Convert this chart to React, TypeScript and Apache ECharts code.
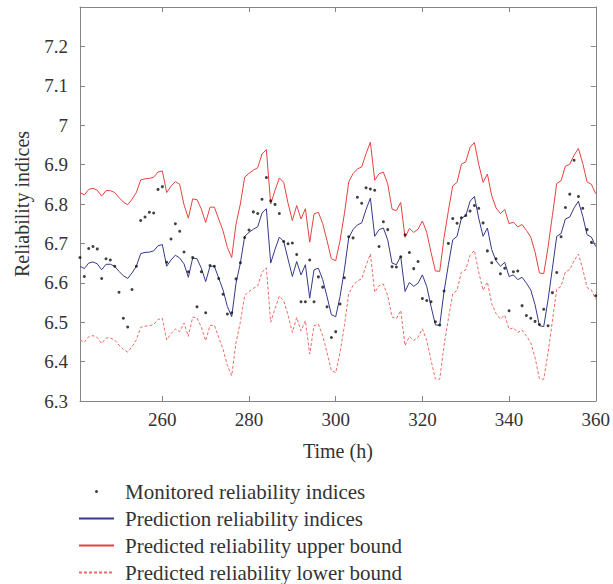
import React, { useEffect, useRef } from "react";
import * as echarts from "echarts";

// Hours 241 .. 360 (one value per hour)
const START_HOUR = 241;
const X_TICKS = [260, 280, 300, 320, 340, 360];

const monitored = [
  6.664, 6.616, 6.687, 6.692, 6.686, 6.611, 6.661, 6.658, 6.642, 6.576,
  6.510, 6.488, 6.583, 6.642, 6.758, 6.767, 6.779, 6.777, 6.837, 6.844,
  6.652, 6.711, 6.750, 6.731, 6.678, 6.628, 6.664, 6.539, 6.628, 6.524,
  6.644, 6.642, 6.611, 6.571, 6.521, 6.524, 6.610, 6.651, 6.715, 6.734,
  6.780, 6.776, 6.812, 6.867, 6.808, 6.799, 6.776, 6.705, 6.699, 6.701,
  6.672, 6.552, 6.552, 6.658, 6.552, 6.615, 6.589, 6.539, 6.461, 6.476,
  6.546, 6.613, 6.717, 6.714, 6.817, 6.802, 6.841, 6.838, 6.835, 6.692,
  6.755, 6.735, 6.641, 6.640, 6.666, 6.722, 6.677, 6.636, 6.654, 6.560,
  6.555, 6.552, 6.501, 6.493, 6.579, 6.700, 6.763, 6.751, 6.765, 6.771,
  6.782, 6.796, 6.789, 6.752, 6.681, 6.651, 6.661, 6.623, 6.637, 6.529,
  6.628, 6.630, 6.542, 6.517, 6.510, 6.502, 6.494, 6.533, 6.491, 6.575,
  6.626, 6.717, 6.791, 6.825, 6.911, 6.819, 6.789, 6.735, 6.703, 6.567,
];

const predicted = [
  6.642, 6.636, 6.650, 6.653, 6.648, 6.633, 6.647, 6.647, 6.642, 6.629,
  6.618, 6.611, 6.625, 6.642, 6.674, 6.677, 6.678, 6.681, 6.694, 6.697,
  6.642, 6.658, 6.670, 6.663, 6.648, 6.614, 6.663, 6.661, 6.637, 6.603,
  6.642, 6.642, 6.612, 6.582, 6.540, 6.514, 6.599, 6.650, 6.718, 6.728,
  6.736, 6.742, 6.777, 6.788, 6.650, 6.685, 6.716, 6.705, 6.660, 6.616,
  6.654, 6.620, 6.646, 6.561, 6.633, 6.637, 6.608, 6.565, 6.519, 6.514,
  6.565, 6.633, 6.714, 6.735, 6.747, 6.752, 6.786, 6.815, 6.718, 6.735,
  6.739, 6.709, 6.650, 6.646, 6.667, 6.578, 6.601, 6.591, 6.599, 6.620,
  6.591, 6.540, 6.493, 6.492, 6.578, 6.646, 6.709, 6.718, 6.764, 6.770,
  6.807, 6.819, 6.764, 6.718, 6.739, 6.684, 6.656, 6.642, 6.652, 6.616,
  6.620, 6.608, 6.614, 6.599, 6.582, 6.544, 6.491, 6.489, 6.557, 6.637,
  6.718, 6.725, 6.762, 6.767, 6.790, 6.807, 6.769, 6.722, 6.716, 6.692,
];

const upperBound = [
  6.829, 6.823, 6.837, 6.840, 6.835, 6.820, 6.834, 6.834, 6.829, 6.816,
  6.805, 6.798, 6.812, 6.829, 6.861, 6.864, 6.865, 6.868, 6.881, 6.884,
  6.829, 6.845, 6.857, 6.850, 6.798, 6.764, 6.813, 6.811, 6.787, 6.753,
  6.792, 6.792, 6.762, 6.732, 6.690, 6.664, 6.749, 6.800, 6.868, 6.878,
  6.886, 6.892, 6.927, 6.938, 6.800, 6.835, 6.866, 6.855, 6.802, 6.758,
  6.796, 6.762, 6.788, 6.703, 6.775, 6.779, 6.750, 6.707, 6.661, 6.656,
  6.707, 6.775, 6.856, 6.877, 6.889, 6.894, 6.928, 6.957, 6.860, 6.877,
  6.881, 6.851, 6.787, 6.783, 6.804, 6.715, 6.738, 6.728, 6.736, 6.757,
  6.728, 6.677, 6.630, 6.629, 6.715, 6.783, 6.846, 6.855, 6.901, 6.907,
  6.944, 6.956, 6.901, 6.855, 6.876, 6.821, 6.790, 6.776, 6.786, 6.750,
  6.754, 6.742, 6.748, 6.733, 6.716, 6.678, 6.625, 6.623, 6.691, 6.771,
  6.852, 6.859, 6.896, 6.901, 6.924, 6.941, 6.903, 6.856, 6.850, 6.826,
];

const lowerBound = [
  6.455, 6.449, 6.463, 6.466, 6.461, 6.446, 6.460, 6.460, 6.455, 6.442,
  6.431, 6.424, 6.438, 6.455, 6.487, 6.490, 6.491, 6.494, 6.507, 6.510,
  6.455, 6.471, 6.483, 6.476, 6.498, 6.464, 6.513, 6.511, 6.487, 6.453,
  6.492, 6.492, 6.462, 6.432, 6.390, 6.364, 6.449, 6.500, 6.568, 6.578,
  6.586, 6.592, 6.627, 6.638, 6.500, 6.535, 6.566, 6.555, 6.518, 6.474,
  6.512, 6.478, 6.504, 6.419, 6.491, 6.495, 6.466, 6.423, 6.377, 6.372,
  6.423, 6.491, 6.572, 6.593, 6.605, 6.610, 6.644, 6.673, 6.576, 6.593,
  6.597, 6.567, 6.513, 6.509, 6.530, 6.441, 6.464, 6.454, 6.462, 6.483,
  6.454, 6.403, 6.356, 6.355, 6.441, 6.509, 6.572, 6.581, 6.627, 6.633,
  6.670, 6.682, 6.627, 6.581, 6.602, 6.547, 6.522, 6.508, 6.518, 6.482,
  6.486, 6.474, 6.480, 6.465, 6.448, 6.410, 6.357, 6.355, 6.423, 6.503,
  6.584, 6.591, 6.628, 6.633, 6.656, 6.673, 6.635, 6.588, 6.582, 6.558,
];

const SERIES_NAMES = [
  "Monitored reliability indices",
  "Prediction reliability indices",
  "Predicted reliability upper bound",
  "Predicted reliability lower bound",
];

const FONT = "'Liberation Serif', 'DejaVu Serif', serif";
const TEXT_COLOR = "#333333";
const AXIS_COLOR = "#858585";
const BLUE = "#34398a";
const RED = "#e5433d";
const RED_LIGHT = "#ee6a66";

export default function App() {
  const ref = useRef<HTMLDivElement>(null);

  useEffect(() => {
    if (!ref.current) return;
    const chart = echarts.init(ref.current, null, { renderer: "svg" });
    const toPairs = (arr: number[]) => arr.map((v, i) => [START_HOUR + i, v]);

    const axisLine = { show: true, lineStyle: { color: AXIS_COLOR, width: 1 } };
    const yLabel = (v: number) => (v > 7.25 ? "" : String(Math.round(v * 10) / 10));
    const hideSymbol = { opacity: 0 };

    chart.setOption({
      animation: false,
      backgroundColor: "#ffffff",
      textStyle: { fontFamily: FONT },
      grid: { left: 80, top: 7, width: 517, height: 394 },
      legend: {
        orient: "vertical",
        left: 78,
        top: 481,
        height: 130,
        padding: 0,
        itemWidth: 35,
        itemHeight: 3,
        itemGap: 6,
        textStyle: { fontFamily: FONT, fontSize: 21, color: TEXT_COLOR, padding: [0, 0, 0, 6] },
        data: [
          { name: SERIES_NAMES[0], icon: "circle" },
          { name: SERIES_NAMES[1], itemStyle: hideSymbol },
          { name: SERIES_NAMES[2], itemStyle: hideSymbol },
          { name: SERIES_NAMES[3], itemStyle: hideSymbol },
        ],
      },
      xAxis: [
        {
          type: "value",
          position: "bottom",
          min: START_HOUR,
          max: 360,
          name: "Time (h)",
          nameLocation: "middle",
          nameGap: 40,
          nameTextStyle: { fontFamily: FONT, fontSize: 20, color: TEXT_COLOR },
          axisLine,
          axisTick: { show: true, inside: true, length: 5, customValues: X_TICKS, lineStyle: { color: AXIS_COLOR } },
          axisLabel: { customValues: X_TICKS, fontFamily: FONT, fontSize: 19, color: TEXT_COLOR, margin: 9 },
          splitLine: { show: false },
        },
        {
          type: "value",
          position: "top",
          min: START_HOUR,
          max: 360,
          axisLine,
          axisTick: { show: true, inside: true, length: 5, customValues: X_TICKS, lineStyle: { color: AXIS_COLOR } },
          axisLabel: { show: false },
          splitLine: { show: false },
        },
      ],
      yAxis: [
        {
          type: "value",
          position: "left",
          min: 6.3,
          max: 7.3,
          interval: 0.1,
          name: "Reliability indices",
          nameLocation: "middle",
          nameGap: 48,
          nameRotate: 90,
          nameTextStyle: { fontFamily: FONT, fontSize: 20, color: TEXT_COLOR },
          axisLine,
          axisTick: { show: true, inside: true, length: 5, lineStyle: { color: AXIS_COLOR } },
          axisLabel: { formatter: yLabel, fontFamily: FONT, fontSize: 19, color: TEXT_COLOR, margin: 12 },
          splitLine: { show: false },
        },
        {
          type: "value",
          position: "right",
          min: 6.3,
          max: 7.3,
          interval: 0.1,
          axisLine,
          axisTick: { show: true, inside: true, length: 5, lineStyle: { color: AXIS_COLOR } },
          axisLabel: { show: false },
          splitLine: { show: false },
        },
      ],
      series: [
        {
          name: SERIES_NAMES[1],
          type: "line",
          xAxisIndex: 0,
          yAxisIndex: 0,
          data: toPairs(predicted),
          symbol: "none",
          showSymbol: false,
          itemStyle: { color: BLUE },
          lineStyle: { color: BLUE, width: 1 },
          z: 3,
        },
        {
          name: SERIES_NAMES[2],
          type: "line",
          xAxisIndex: 0,
          yAxisIndex: 0,
          data: toPairs(upperBound),
          symbol: "none",
          showSymbol: false,
          itemStyle: { color: RED },
          lineStyle: { color: RED, width: 1 },
          z: 2,
        },
        {
          name: SERIES_NAMES[3],
          type: "line",
          xAxisIndex: 0,
          yAxisIndex: 0,
          data: toPairs(lowerBound),
          symbol: "none",
          showSymbol: false,
          itemStyle: { color: RED_LIGHT },
          lineStyle: { color: RED_LIGHT, width: 1, type: [3, 2] },
          z: 2,
        },
        {
          name: SERIES_NAMES[0],
          type: "scatter",
          xAxisIndex: 0,
          yAxisIndex: 0,
          data: toPairs(monitored),
          symbol: "circle",
          symbolSize: 3,
          itemStyle: { color: "#111111" },
          z: 5,
        },
      ],
    });

    return () => chart.dispose();
  }, []);

  return (
    <div
      ref={ref}
      style={{ position: "fixed", left: 0, top: 0, width: 613, height: 584, background: "#fff" }}
    />
  );
}
